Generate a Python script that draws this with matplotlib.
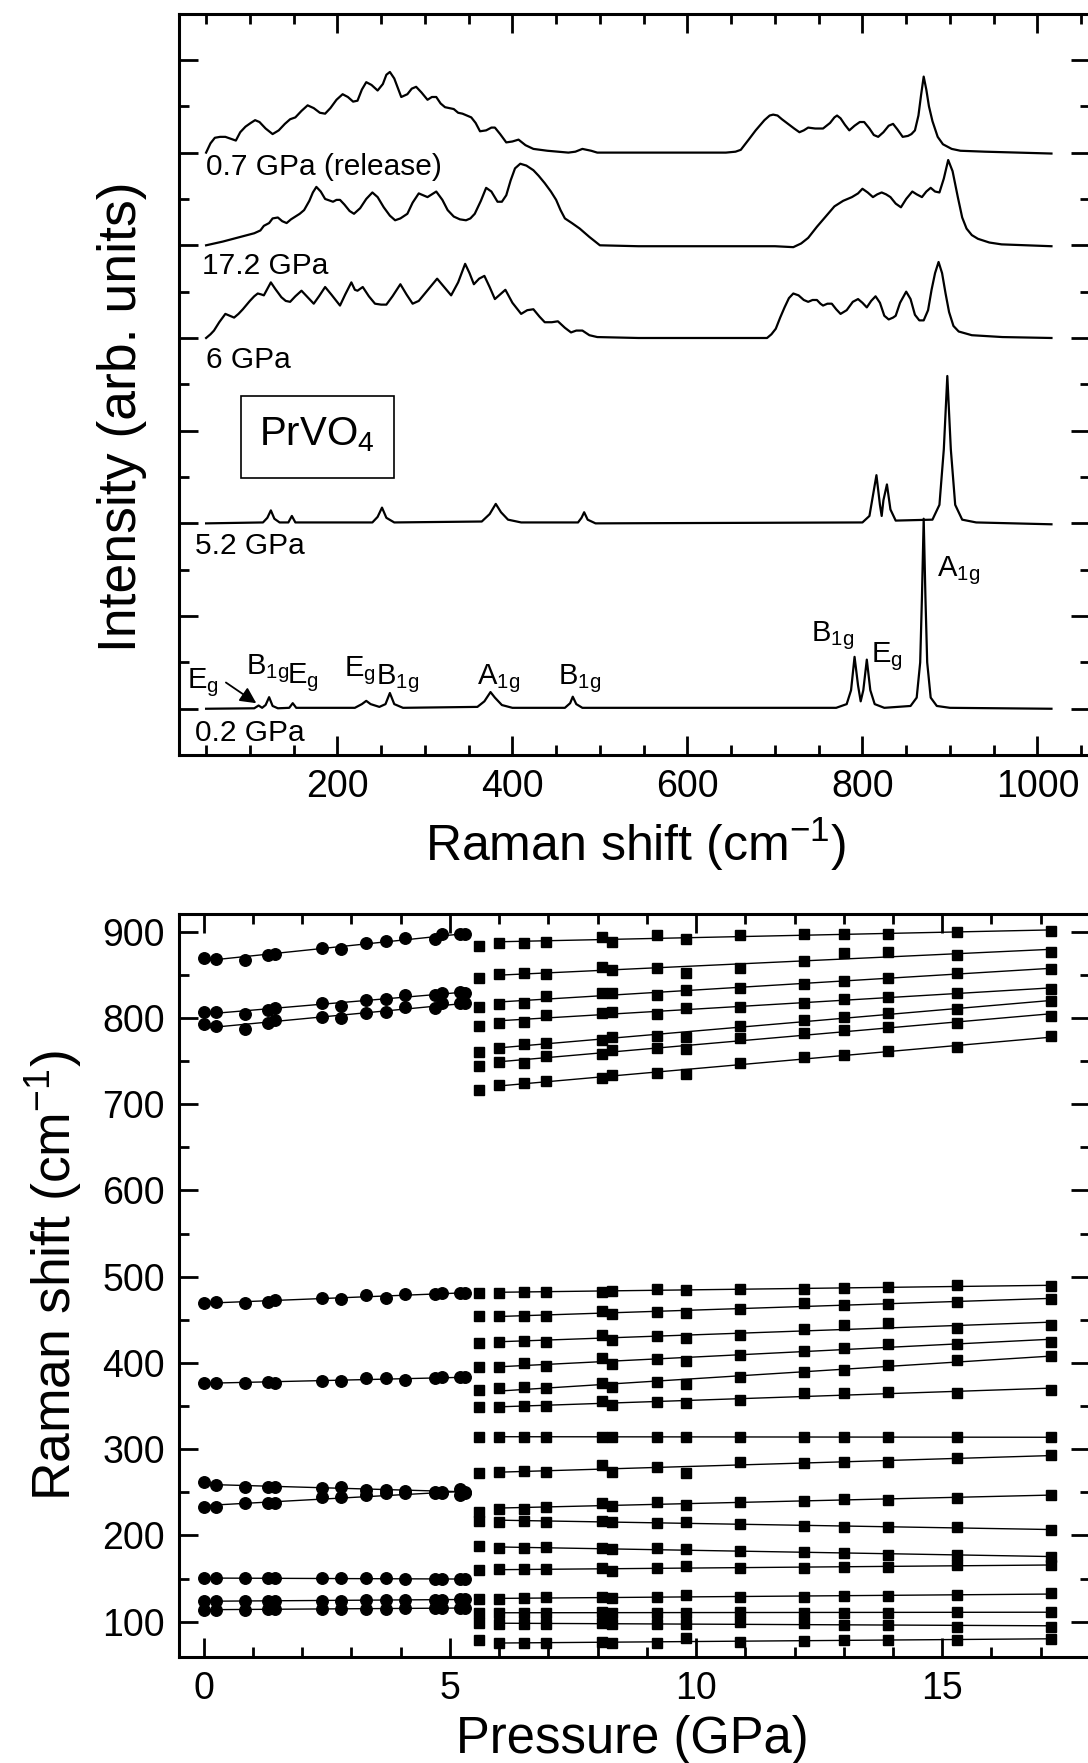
import numpy as np
import matplotlib
matplotlib.use("Agg")
import matplotlib.pyplot as plt
from matplotlib.ticker import MultipleLocator
from matplotlib.patches import Rectangle

# --- fonts ---
plt.rcParams['font.family'] = ['Liberation Sans', 'DejaVu Sans']
plt.rcParams['mathtext.fontset'] = 'custom'
plt.rcParams['mathtext.rm'] = 'Liberation Sans'
plt.rcParams['mathtext.it'] = 'Liberation Sans'
plt.rcParams['mathtext.default'] = 'regular'

# --- Raman spectra (offsets included) ---
spec_07r_x = [50, 55, 60, 66, 72, 78, 84, 89, 95, 101, 106, 111, 118, 126, 133, 140, 146, 152, 159, 166,
              173, 180, 186, 192, 199, 206, 212, 218, 223, 228, 233, 239, 246, 252, 256, 260, 265, 273,
              280, 285, 290, 296, 303, 308, 313, 318, 323, 328, 333, 338, 343, 348, 353, 358, 363, 370,
              376, 380, 386, 393, 400, 407, 415, 424, 440, 464, 472, 480, 490, 497, 560, 644, 655, 661,
              670, 678, 688, 694, 698, 703, 708, 715, 722, 728, 733, 738, 746, 755, 763, 768, 771, 775,
              780, 785, 791, 797, 802, 808, 813, 818, 824, 830, 835, 840, 846, 852, 856, 860, 864, 867,
              870, 873, 876, 880, 886, 892, 902, 912, 940, 1016]
spec_07r_y = [6.00, 6.10, 6.16, 6.17, 6.17, 6.15, 6.13, 6.22, 6.28, 6.32, 6.35, 6.33, 6.26, 6.20, 6.24,
              6.31, 6.36, 6.38, 6.45, 6.51, 6.48, 6.43, 6.42, 6.48, 6.57, 6.63, 6.60, 6.55, 6.56, 6.68,
              6.76, 6.73, 6.67, 6.74, 6.84, 6.87, 6.80, 6.60, 6.63, 6.69, 6.71, 6.65, 6.57, 6.60, 6.60,
              6.53, 6.49, 6.48, 6.47, 6.43, 6.42, 6.40, 6.38, 6.32, 6.23, 6.24, 6.27, 6.27, 6.20, 6.11,
              6.12, 6.14, 6.08, 6.04, 6.02, 6.00, 6.01, 6.04, 6.02, 6.00, 6.00, 6.00, 6.01, 6.03, 6.14,
              6.24, 6.35, 6.40, 6.41, 6.40, 6.36, 6.31, 6.26, 6.22, 6.24, 6.27, 6.26, 6.26, 6.32, 6.38,
              6.40, 6.37, 6.30, 6.24, 6.29, 6.33, 6.33, 6.26, 6.19, 6.17, 6.22, 6.29, 6.31, 6.25, 6.17,
              6.18, 6.20, 6.24, 6.40, 6.62, 6.82, 6.68, 6.50, 6.34, 6.17, 6.09, 6.04, 6.02, 6.01, 5.99]

spec_172_x = [50, 69, 89, 105, 112, 116, 122, 126, 132, 137, 142, 147, 152, 157, 162, 168, 172, 176, 181,
              186, 189, 195, 199, 203, 208, 214, 219, 226, 233, 240, 246, 253, 260, 266, 272, 280, 286,
              293, 298, 303, 308, 313, 320, 326, 333, 340, 347, 352, 357, 364, 370, 376, 383, 388, 393,
              398, 403, 409, 416, 424, 430, 437, 444, 450, 455, 460, 468, 477, 488, 500, 544, 700, 721,
              730, 738, 748, 758, 768, 778, 788, 795, 800, 806, 812, 817, 822, 827, 832, 838, 844, 850,
              857, 862, 868, 873, 878, 883, 888, 893, 898, 903, 909, 914, 919, 925, 932, 945, 959, 1016]
spec_172_y = [5.00, 5.04, 5.09, 5.13, 5.16, 5.21, 5.24, 5.29, 5.30, 5.26, 5.24, 5.28, 5.31, 5.34, 5.38,
              5.48, 5.57, 5.63, 5.58, 5.50, 5.49, 5.47, 5.49, 5.49, 5.44, 5.37, 5.34, 5.40, 5.50, 5.57,
              5.52, 5.41, 5.32, 5.27, 5.29, 5.34, 5.46, 5.56, 5.54, 5.52, 5.55, 5.58, 5.49, 5.38, 5.31,
              5.28, 5.27, 5.29, 5.34, 5.48, 5.62, 5.58, 5.47, 5.47, 5.54, 5.70, 5.83, 5.88, 5.86, 5.81,
              5.75, 5.67, 5.58, 5.49, 5.38, 5.29, 5.24, 5.18, 5.09, 5.00, 4.99, 4.99, 4.98, 5.02, 5.08,
              5.20, 5.31, 5.42, 5.48, 5.52, 5.56, 5.61, 5.57, 5.52, 5.55, 5.57, 5.55, 5.52, 5.45, 5.41,
              5.50, 5.58, 5.55, 5.52, 5.58, 5.62, 5.58, 5.57, 5.72, 5.92, 5.80, 5.52, 5.30, 5.18, 5.11,
              5.07, 5.03, 5.01, 4.99]

spec_6_x = [50, 55, 59, 65, 72, 77, 82, 87, 92, 100, 105, 109, 113, 116, 120, 124, 129, 136, 141, 146,
            152, 159, 165, 173, 179, 186, 193, 203, 209, 216, 220, 223, 229, 236, 243, 250, 256, 263,
            272, 279, 286, 293, 300, 307, 314, 322, 330, 338, 346, 351, 356, 362, 368, 374, 380, 386,
            392, 400, 410, 417, 424, 431, 437, 445, 452, 460, 467, 473, 480, 488, 497, 544, 691, 696,
            701, 706, 711, 716, 721, 727, 733, 738, 743, 748, 752, 755, 760, 765, 770, 775, 782, 789,
            795, 800, 805, 810, 815, 820, 825, 830, 835, 838, 843, 850, 855, 860, 865, 870, 875, 879,
            883, 887, 891, 895, 899, 904, 910, 925, 960, 1016]
spec_6_y = [4.00, 4.04, 4.08, 4.17, 4.26, 4.24, 4.22, 4.26, 4.31, 4.40, 4.45, 4.48, 4.47, 4.46, 4.53,
            4.60, 4.53, 4.44, 4.40, 4.39, 4.45, 4.51, 4.45, 4.37, 4.45, 4.55, 4.47, 4.35, 4.47, 4.60,
            4.52, 4.51, 4.55, 4.45, 4.37, 4.36, 4.36, 4.45, 4.58, 4.47, 4.37, 4.40, 4.48, 4.56, 4.64,
            4.55, 4.46, 4.60, 4.80, 4.70, 4.58, 4.64, 4.67, 4.55, 4.42, 4.47, 4.52, 4.38, 4.26, 4.30,
            4.31, 4.23, 4.17, 4.17, 4.18, 4.11, 4.06, 4.08, 4.08, 4.03, 4.01, 4.00, 4.00, 4.04, 4.10,
            4.22, 4.33, 4.43, 4.48, 4.46, 4.41, 4.39, 4.41, 4.41, 4.37, 4.35, 4.37, 4.37, 4.31, 4.26,
            4.30, 4.39, 4.42, 4.38, 4.33, 4.40, 4.45, 4.38, 4.24, 4.20, 4.22, 4.24, 4.38, 4.50, 4.42,
            4.25, 4.19, 4.19, 4.30, 4.52, 4.70, 4.82, 4.70, 4.48, 4.28, 4.13, 4.07, 4.03, 4.01, 4.00]

spec_52_x = [50, 115, 120, 124, 128, 134, 144, 148, 152, 240, 246, 251, 256, 265, 365, 374, 381, 387,
             395, 410, 475, 479, 482, 486, 495, 800, 808, 812, 816, 820, 822, 824, 828, 832, 838, 880,
             888, 893, 897, 901, 906, 914, 930, 1016]
spec_52_y = [2.0, 2.01, 2.06, 2.14, 2.05, 2.01, 2.01, 2.08, 2.01, 2.01, 2.07, 2.17, 2.06, 2.01, 2.02,
             2.10, 2.21, 2.12, 2.04, 2.01, 2.01, 2.06, 2.12, 2.04, 2.0, 2.01, 2.08, 2.30, 2.52, 2.20,
             2.08, 2.25, 2.42, 2.15, 2.03, 2.04, 2.20, 2.80, 3.59, 2.80, 2.20, 2.04, 2.01, 1.99]

spec_02_x = [50, 105, 110, 114, 118, 122, 126, 132, 145, 149, 153, 220, 228, 233, 238, 248, 255, 260,
             265, 275, 360, 368, 375, 380, 388, 400, 460, 466, 469, 473, 480, 770, 782, 787, 791, 795,
             798, 801, 805, 809, 814, 825, 855, 862, 866, 868, 870, 872, 874, 878, 885, 900, 1016]
spec_02_y = [0.0, 0.005, 0.035, 0.01, 0.04, 0.125, 0.03, 0.005, 0.01, 0.06, 0.01, 0.01, 0.05, 0.085,
             0.05, 0.02, 0.05, 0.17, 0.05, 0.01, 0.02, 0.08, 0.18, 0.12, 0.04, 0.01, 0.01, 0.06, 0.13,
             0.05, 0.01, 0.01, 0.05, 0.20, 0.56, 0.25, 0.08, 0.20, 0.53, 0.20, 0.05, 0.01, 0.03, 0.12,
             0.50, 1.20, 2.05, 1.20, 0.50, 0.12, 0.03, 0.01, 0.0]

spectra = [(spec_07r_x, spec_07r_y), (spec_172_x, spec_172_y), (spec_6_x, spec_6_y),
           (spec_52_x, spec_52_y), (spec_02_x, spec_02_y)]

# --- Raman modes vs pressure ---
# phase I (circles)
p_circ = [0.0, 0.25, 0.85, 1.3, 1.45, 2.4, 2.8, 3.3, 3.7, 4.1, 4.7, 4.85, 5.2, 5.3]
c_870 = [869.9, 868.7, 867.2, 873.0, 874.1, 880.7, 879.9, 886.5, 889.6, 893.1, 891.5, 897.3, 897.3, 897.3]
c_805 = [807.3, 807.3, 804.6, 809.2, 811.2, 817.0, 813.9, 820.8, 822.0, 826.6, 826.6, 829.3, 829.7, 829.3]
c_793 = [793.0, 790.7, 786.8, 793.8, 797.6, 801.5, 799.5, 806.1, 807.3, 813.1, 811.2, 817.0, 817.0, 817.0]
c_470 = [469.9, 471.1, 469.1, 471.1, 473.0, 474.9, 473.8, 478.8, 475.7, 480.0, 480.0, 481.5, 480.7, 480.7]
c_375 = [377.2, 376.4, 377.2, 378.3, 377.2, 379.5, 379.5, 382.2, 382.2, 380.3, 382.2, 383.3, 383.3, 383.3]
c_260 = [262.4, 258.5, 256.6, 256.6, 255.8, 254.6, 255.8, 252.7, 252.7, 251.9, 250.8, 250.8, 253.5, 250.8]
c_233 = [233.4, 233.4, 237.2, 238.0, 238.0, 245.0, 245.0, 246.9, 248.8, 249.6, 249.6, 249.6, 246.9, 248.8]
c_150 = [150.3, 150.3, 150.3, 150.3, 150.3, 150.3, 150.3, 150.3, 150.3, 149.5, 149.5, 149.5, 149.1, 149.1]
c_123 = [124.0, 124.0, 124.0, 124.0, 124.0, 124.5, 124.5, 125.0, 125.0, 125.0, 125.5, 125.5, 126.0, 126.0]
c_113 = [114.0, 114.0, 114.0, 114.5, 114.5, 114.5, 115.0, 115.0, 115.0, 115.5, 115.5, 115.5, 116.0, 116.0]
modes_circ = [c_870, c_805, c_793, c_470, c_375, c_260, c_233, c_150, c_123, c_113]

# phase II (squares)
p_sq = [5.6, 6.0, 6.5, 6.95, 8.1, 8.3, 9.2, 9.8, 10.9, 12.2, 13.0, 13.9, 15.3, 17.2]
s_a = [883.4, 887.3, 887.3, 888.4, 894.2, 888.4, 896.2, 891.1, 896.2, 897.3, 897.3, 897.3, 899.2, 900.8]
s_b = [845.9, 851.0, 851.7, 851.0, 859.5, 855.6, 857.5, 852.5, 857.5, 866.0, 874.9, 876.8, 873.0, 876.8]
s_c = [812.3, 816.2, 817.7, 825.5, 828.5, 828.5, 826.6, 832.4, 834.3, 839.4, 843.2, 846.7, 851.7, 856.7]
s_d = [790.7, 793.8, 795.7, 803.4, 805.3, 807.3, 804.6, 811.2, 813.1, 816.9, 821.6, 824.7, 828.5, 833.2]
s_e = [760.9, 764.8, 769.8, 771.3, 774.4, 778.3, 779.1, 778.3, 790.7, 797.6, 800.7, 805.3, 810.0, 820.0]
s_f = [744.3, 749.3, 748.2, 755.9, 758.2, 762.9, 764.8, 763.6, 776.4, 782.9, 786.0, 789.9, 793.8, 802.3]
s_g = [716.4, 722.2, 724.9, 727.3, 730.0, 733.8, 735.8, 735.0, 747.4, 754.3, 757.0, 761.7, 765.9, 779.1]
s_h = [481.5, 481.5, 482.7, 482.7, 482.7, 483.8, 485.4, 484.6, 485.4, 485.4, 486.5, 487.7, 490.4, 489.2]
s_i = [454.5, 454.5, 454.5, 454.5, 460.6, 456.8, 459.5, 458.3, 462.2, 469.9, 467.2, 468.4, 471.1, 473.8]
s_j = [423.5, 424.7, 425.9, 424.7, 432.4, 426.6, 431.3, 428.6, 432.4, 439.0, 444.0, 445.9, 440.2, 444.0]
s_k = [394.9, 394.9, 399.6, 396.5, 405.4, 398.8, 404.2, 402.7, 409.2, 414.3, 417.0, 422.0, 422.0, 424.7]
s_l = [368.6, 370.6, 371.8, 370.6, 377.2, 371.8, 378.3, 375.6, 384.1, 389.9, 391.9, 397.6, 403.4, 408.1]
s_m = [348.6, 349.3, 350.1, 350.1, 356.3, 351.3, 355.1, 353.2, 357.1, 364.8, 364.8, 366.7, 365.6, 368.7]
s_n = [314.5, 314.5, 314.5, 314.5, 314.5, 314.5, 314.0, 314.0, 314.0, 314.0, 314.0, 314.0, 314.0, 314.0]
s_o = [272.8, 274.0, 275.1, 274.0, 281.7, 274.0, 279.8, 272.8, 285.6, 284.4, 285.6, 285.6, 289.4, 293.3]
s_p = [227.6, 230.3, 230.3, 232.6, 238.0, 234.2, 239.2, 235.3, 239.2, 240.3, 241.9, 241.1, 243.0, 246.9]
s_q = [217.1, 216.0, 217.1, 216.0, 217.1, 216.0, 214.8, 216.0, 213.3, 211.0, 209.4, 210.2, 209.4, 206.3]
s_r = [187.8, 185.1, 185.1, 186.2, 185.1, 183.9, 185.1, 183.9, 182.4, 181.2, 179.3, 177.3, 177.3, 175.4]
s_s = [160.0, 160.7, 160.7, 160.7, 161.9, 159.2, 161.9, 164.6, 161.9, 161.9, 163.8, 163.8, 165.7, 165.7]
s_t = [126.0, 126.0, 127.1, 128.3, 129.0, 127.1, 128.3, 131.0, 128.3, 129.0, 129.8, 129.8, 131.0, 132.9]
s_u = [109.7, 110.5, 110.5, 110.5, 111.6, 110.5, 109.7, 109.7, 111.6, 109.7, 109.7, 110.5, 111.6, 111.6]
s_v = [98.9, 97.3, 97.3, 97.3, 98.1, 97.3, 97.3, 97.3, 100.0, 98.1, 96.2, 96.2, 94.3, 94.3]
s_w = [78.8, 75.0, 75.0, 75.0, 76.9, 75.0, 75.7, 80.7, 76.9, 78.0, 78.8, 78.8, 78.8, 79.6]
modes_sq = [s_a, s_b, s_c, s_d, s_e, s_f, s_g, s_h, s_i, s_j, s_k, s_l, s_m, s_n, s_o,
            s_p, s_q, s_r, s_s, s_t, s_u, s_v, s_w]

# --- labels ---
spec_labels = ['0.7 GPa (release)', '17.2 GPa', '6 GPa', '5.2 GPa', '0.2 GPa']
spec_label_x = [50, 45, 50, 37, 37]
spec_label_y = [5.76, 4.69, 3.68, 1.67, -0.35]

peak_labels = ['E$_g$', 'B$_{1g}$', 'E$_g$', 'E$_g$', 'B$_{1g}$', 'A$_{1g}$', 'B$_{1g}$',
               'B$_{1g}$', 'E$_g$', 'A$_{1g}$']
peak_label_x = [28, 96, 143, 208, 244, 359, 452, 741, 810, 885]
peak_label_y = [0.22, 0.37, 0.28, 0.35, 0.26, 0.26, 0.26, 0.73, 0.50, 1.43]

# --- figure ---
fig = plt.figure(figsize=(10.88, 17.63), dpi=100)
ax1 = fig.add_axes([0.1645, 0.5717, 0.8373, 0.4206])
ax2 = fig.add_axes([0.1645, 0.0603, 0.8373, 0.4215])

for x, y in spectra:
    ax1.plot(x, y, color='black', lw=1.6)

for t, x, y in zip(spec_labels, spec_label_x, spec_label_y):
    ax1.text(x, y, t, fontsize=21.5, ha='left', va='baseline')

for t, x, y in zip(peak_labels, peak_label_x, peak_label_y):
    ax1.text(x, y, t, fontsize=21, ha='left', va='baseline')

ax1.annotate('', xy=(110, 0.043), xytext=(70, 0.3),
             arrowprops=dict(arrowstyle='-|>', color='black', lw=1.3, mutation_scale=24))

ax1.add_patch(Rectangle((0.0685, 0.3732), 0.1671, 0.111, transform=ax1.transAxes,
                        fill=False, ec='black', lw=1.2))
ax1.text(0.1515, 0.418, 'PrVO$_4$', transform=ax1.transAxes, fontsize=29,
         ha='center', va='baseline')

ax1.set_xlim(19, 1060)
ax1.set_ylim(-0.5, 7.5)
ax1.xaxis.set_major_locator(MultipleLocator(200))
ax1.xaxis.set_minor_locator(MultipleLocator(50))
ax1.yaxis.set_major_locator(MultipleLocator(1))
ax1.yaxis.set_minor_locator(MultipleLocator(0.5))
ax1.tick_params(labelleft=False)
ax1.set_xlabel('Raman shift (cm$^{-1}$)', fontsize=36)
ax1.set_ylabel('Intensity (arb. units)', fontsize=38.5)
ax1.xaxis.set_label_coords(0.5016, -0.082)
ax1.yaxis.set_label_coords(-0.035, 0.457)

# bottom panel: points + linear fits
for m in modes_circ:
    k, b = np.polyfit(p_circ, m, 1)
    xx = np.array([p_circ[0], p_circ[-1]])
    ax2.plot(xx, k * xx + b, color='black', lw=1.0, zorder=2)
    ax2.plot(p_circ, m, 'o', color='black', ms=8.3, zorder=3)

for m in modes_sq:
    k, b = np.polyfit(p_sq[1:], m[1:], 1)
    xx = np.array([p_sq[1], p_sq[-1]])
    ax2.plot(xx, k * xx + b, color='black', lw=1.0, zorder=2)
    ax2.plot(p_sq, m, 's', color='black', ms=7.4, zorder=3)

ax2.set_xlim(-0.5, 18)
ax2.set_ylim(59.4, 921)
ax2.xaxis.set_major_locator(MultipleLocator(5))
ax2.xaxis.set_minor_locator(MultipleLocator(1))
ax2.yaxis.set_major_locator(MultipleLocator(100))
ax2.yaxis.set_minor_locator(MultipleLocator(50))
ax2.set_xlabel('Pressure (GPa)', fontsize=36.5)
ax2.set_ylabel('Raman shift (cm$^{-1}$)', fontsize=38.5)
ax2.xaxis.set_label_coords(0.498, -0.078)
ax2.yaxis.set_label_coords(-0.104, 0.512)

for ax in (ax1, ax2):
    for s in ax.spines.values():
        s.set_linewidth(2.2)
    ax.tick_params(which='both', direction='in', top=True, right=True, width=2,
                   labelsize=27, pad=10)
    ax.tick_params(which='major', length=14)
    ax.tick_params(which='minor', length=7)

fig.savefig('out.png', dpi=100)
